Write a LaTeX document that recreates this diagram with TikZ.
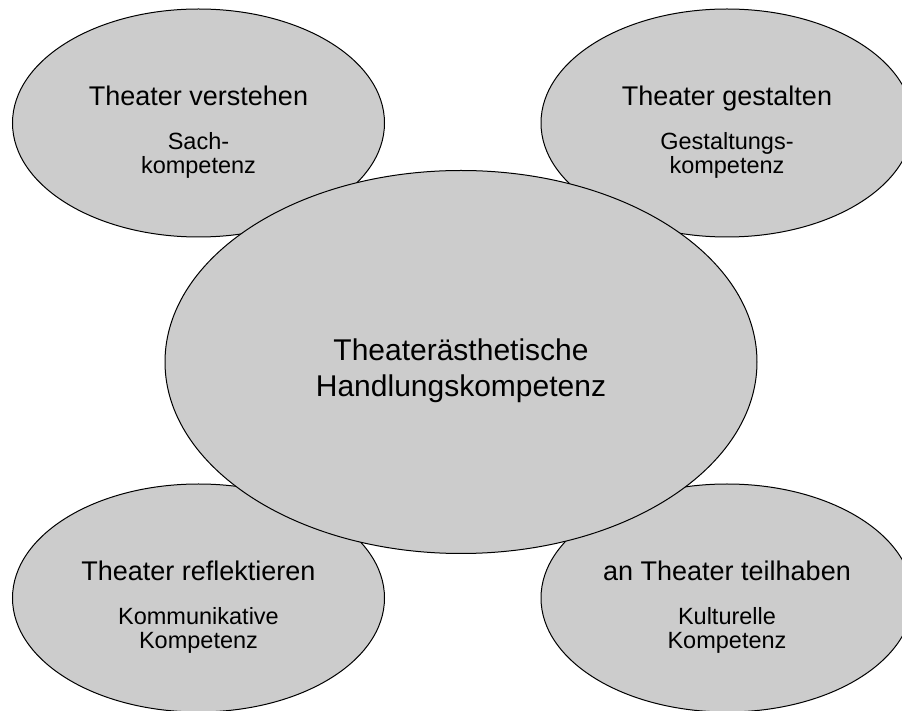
\documentclass[tikz,border=0pt]{standalone}
\usepackage{fontspec}
\setmainfont{Liberation Sans}
\usetikzlibrary{shapes.geometric}
\definecolor{bubblegray}{HTML}{CCCCCC}

\begin{document}
\begin{tikzpicture}[x=.5pt,y=-.5pt,
    bubble/.style={ellipse,draw,fill=bubblegray,line width=.5pt,
      minimum width=186pt,minimum height=114pt,inner sep=0pt},
    title/.style={anchor=base,inner sep=0pt,font=\fontsize{13.5}{16}\selectfont},
    sub/.style={anchor=base,inner sep=0pt,align=center,font=\fontsize{11.75}{12}\selectfont}]
    \useasboundingbox (0,0) rectangle (902,711);

    %% outer bubbles
    \node (verstehen) at (198.5,123) [bubble] {};
    \node (gestalten) at (727,123) [bubble] {};
    \node (reflektieren) at (198.5,598) [bubble] {};
    \node (teilhaben) at (727,598) [bubble] {};

    %% centre
    \node (handlung) at (461,362) [bubble,minimum width=296pt,minimum height=191.5pt] {};
    \node (handlungT) at ([yshift=-17.5pt]handlung.center) [anchor=base,inner sep=0pt,align=center,
      font=\fontsize{15}{18}\selectfont] {Theaterästhetische\\Handlungskompetenz};

    %% titles
    \node (verstehenT) at ([yshift=8.5pt]verstehen.center) [title] {Theater verstehen};
    \node (gestaltenT) at ([yshift=8.5pt]gestalten.center) [title] {Theater gestalten};
    \node (reflektierenT) at ([yshift=8.5pt]reflektieren.center) [title] {Theater reflektieren};
    \node (teilhabenT) at ([yshift=8.5pt]teilhaben.center) [title] {an Theater teilhaben};

    %% competences (base = last line)
    \node (verstehenK) at ([yshift=-25.25pt]verstehen.center) [sub] {Sach-\\kompetenz};
    \node (gestaltenK) at ([yshift=-25.25pt]gestalten.center) [sub] {Gestaltungs-\\kompetenz};
    \node (reflektierenK) at ([yshift=-25.25pt]reflektieren.center) [sub] {Kommunikative\\Kompetenz};
    \node (teilhabenK) at ([yshift=-25.25pt]teilhaben.center) [sub] {Kulturelle\\Kompetenz};
  \end{tikzpicture}
\end{document}
